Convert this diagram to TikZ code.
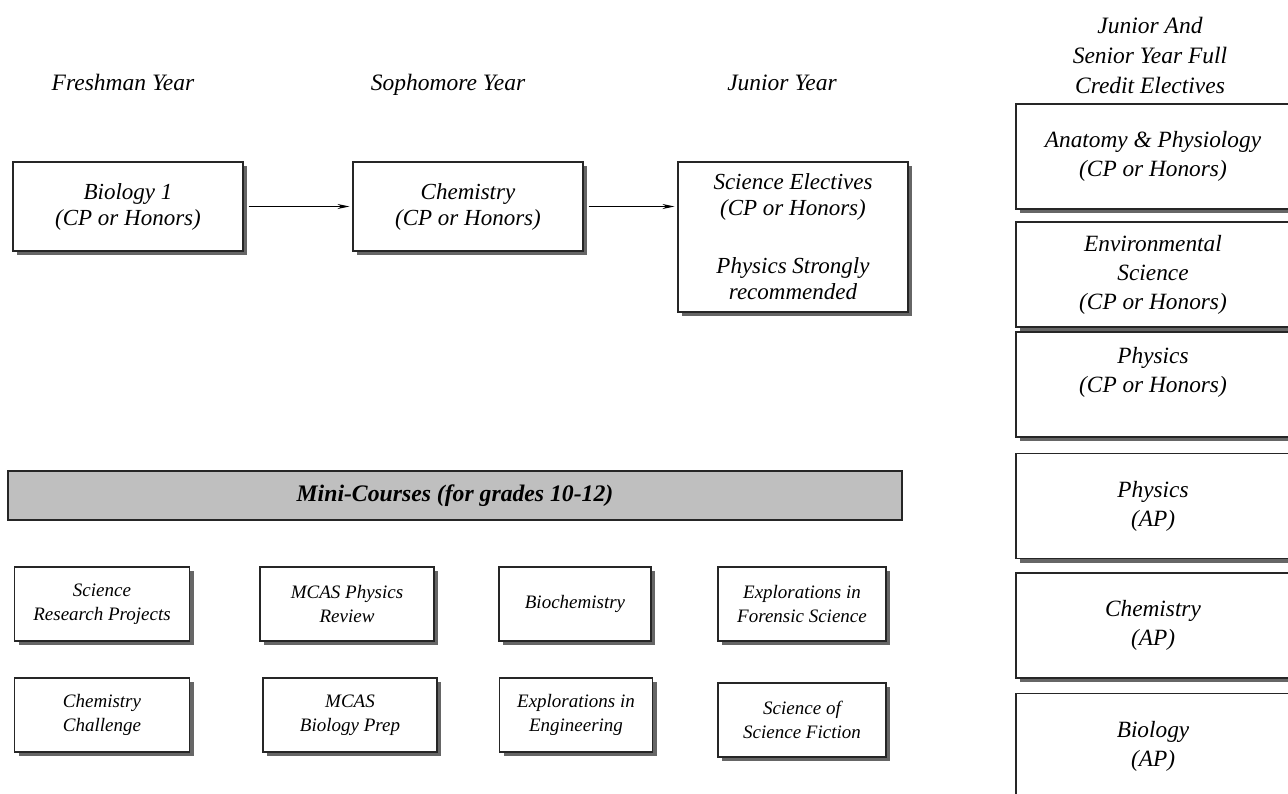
\documentclass[tikz,border=0pt]{standalone}
\usepackage{fontspec}
\setmainfont{Liberation Serif}
\usetikzlibrary{arrows.meta,shadows}
\tikzstyle{course}=[draw=black!85,line width=1.1pt,fill=white,align=center,inner sep=2pt,
    font=\fontsize{23}{26}\selectfont\itshape,
    drop shadow={shadow xshift=4pt,shadow yshift=-4pt,fill=black!60,opacity=1}]
\tikzstyle{elective}=[course,minimum width=274pt,minimum height=105pt,font=\fontsize{23.3}{29}\selectfont\itshape]
\tikzstyle{mini}=[course,minimum height=74pt,font=\fontsize{19}{24}\selectfont\itshape]
\tikzstyle{year}=[align=center,font=\fontsize{23.5}{30}\selectfont\itshape]

\tikzstyle{edge}=[draw,line width=0.9pt,-{Stealth[length=12pt,width=5pt]},shorten <=5pt,shorten >=3pt]

\begin{document}
\begin{tikzpicture}[x=1pt,y=-1pt]
    \useasboundingbox (0,0) rectangle (1288,793);
    % Year headings
    \node[year,anchor=base] (fresh) at (123,90) {Freshman Year};
    \node[year,anchor=base] (soph) at (448,90) {Sophomore Year};
    \node[year,anchor=base] (junior) at (782,90) {Junior Year};
    \node[year] (fullcredit) at (1150,55) {Junior And\\Senior Year Full\\Credit Electives};
    % Core sequence
    \node[course,minimum width=230pt,minimum height=89pt] (bio) at (128,206.5) {Biology 1\\(CP or Honors)};
    \node[course,minimum width=230pt,minimum height=89pt] (chem) at (468,206.5) {Chemistry\\(CP or Honors)};
    \node[course,minimum width=230pt,minimum height=150pt] (sci) at (793,237)
        {Science Electives\\(CP or Honors)\\[32pt]Physics Strongly\\recommended};
    \path[edge] (bio) -- (chem);
    \path[edge] (chem.east) -- (chem.east -| sci.west);
    % Full credit electives
    \foreach \y/\name/\txt in {156.5/anat/{Anatomy \& Physiology\\(CP or Honors)},
        274.5/envsci/{Environmental\\Science\\(CP or Honors)},
        384.5/physcp/{Physics\\(CP or Honors)\\~},
        506/physap/{Physics\\(AP)},
        625.5/chemap/{Chemistry\\(AP)},
        746/bioap/{Biology\\(AP)}}
        \node[elective] (\name) at (1153,\y) {\txt};
    % Mini-courses
    \node[draw=black!85,line width=1.1pt,fill=black!25,minimum width=894pt,minimum height=49pt,
        font=\fontsize{23.7}{26}\selectfont\bfseries\itshape] (minibar) at (455,495.5) {Mini-Courses (for grades 10-12)};
    \foreach \x/\y/\w/\name/\txt in {102/604/175pt/research/{Science\\Research Projects},
        347/604/174pt/mcasphys/{MCAS Physics\\Review},
        575/604/152pt/biochem/{Biochemistry},
        802/604/168pt/forensic/{Explorations in\\Forensic Science},
        102/715/175pt/chemchal/{Chemistry\\Challenge},
        350/715/174pt/mcasbio/{MCAS\\Biology Prep},
        576/715/153pt/engineering/{Explorations in\\Engineering},
        802/720/168pt/scifi/{Science of\\Science Fiction}}
        \node[mini,minimum width=\w] (\name) at (\x,\y) {\txt};
\end{tikzpicture}
\end{document}
